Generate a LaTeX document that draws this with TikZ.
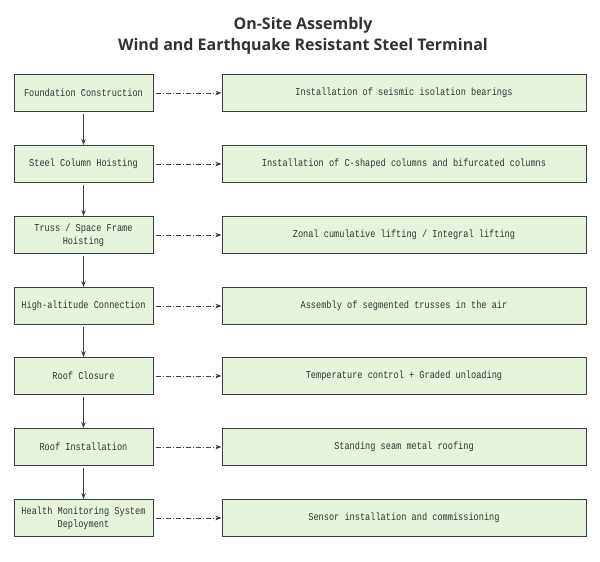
\documentclass[tikz,border=0pt]{standalone}
\usepackage{fontspec}
\usepackage{tikz}
\usetikzlibrary{arrows.meta,
                positioning}

\newfontfamily\stepfont[FakeStretch=0.82]{Liberation Mono}
\newfontfamily\titlefont{Open Sans}

\definecolor{boxfill}{RGB}{230,243,221}
\definecolor{boxline}{RGB}{62,62,62}
\definecolor{titlegray}{RGB}{50,50,50}

\tikzset{
  stage/.style={draw=boxline, fill=boxfill, line width=1pt,
                minimum width=139pt, minimum height=37pt, inner sep=2pt,
                align=center, text=black!80,
                font=\stepfont\fontsize{10.5}{13}\selectfont},
  task/.style={stage, minimum width=364pt},
  flow/.style={-{Stealth[length=6pt,width=4.5pt]}, draw=boxline, line width=0.8pt},
  link/.style={flow, dash pattern=on 5pt off 2pt on 1pt off 2pt}
}

\begin{document}
\begin{tikzpicture}[x=1pt,y=-1pt]
\useasboundingbox (0,0) rectangle (600,562);

\node[align=center, text=titlegray,
      font=\titlefont\bfseries\fontsize{16}{21}\selectfont] (title) at (303,35.5)
  {On-Site Assembly\\Wind and Earthquake Resistant Steel Terminal};

% stages on the left, what is done on the right
\foreach \i/\y/\s/\t in {1/93/{Foundation Construction}/{Installation of seismic isolation bearings},
                         2/164/{Steel Column Hoisting}/{Installation of C-shaped columns and bifurcated columns},
                         3/235/{Truss / Space Frame\\Hoisting}/{Zonal cumulative lifting / Integral lifting},
                         4/306/{High-altitude Connection}/{Assembly of segmented trusses in the air},
                         5/376/{Roof Closure}/{Temperature control + Graded unloading},
                         6/447/{Roof Installation}/{Standing seam metal roofing},
                         7/518/{Health Monitoring System\\Deployment}/{Sensor installation and commissioning}}
{
  \node[stage] (s\i) at (83.5,\y) {\s};
  \node[task] (t\i) at (404,\y) {\t};
  \draw[link] ([xshift=2pt]s\i.east) -- (t\i.west);
}

\foreach \i/\j in {1/2,2/3,3/4,4/5,5/6,6/7}
  \draw[flow] ([yshift=-2pt]s\i.south) -- (s\j.north);
\end{tikzpicture}
\end{document}
